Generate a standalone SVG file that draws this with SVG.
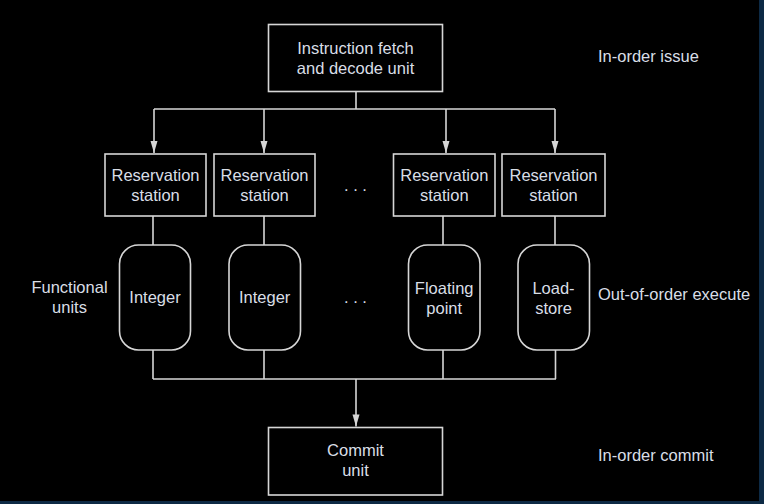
<svg xmlns="http://www.w3.org/2000/svg" width="764" height="504" viewBox="0 0 764 504">
<defs>
<style>
.box{fill:#000;stroke:#d6d6d6;stroke-width:1.6}
.ln{fill:none;stroke:#d6d6d6;stroke-width:1.6}
text{font-family:"Liberation Sans",Arial,sans-serif;font-size:16.5px;fill:#d9dee6;text-anchor:middle}
.lab{text-anchor:start}
</style>
<marker id="ah" markerUnits="userSpaceOnUse" markerWidth="14" markerHeight="10" viewBox="0 0 14 10" refX="13" refY="5" orient="auto">
<path d="M1,1.5 L13,5 L1,8.5 Z" fill="#d6d6d6"/>
</marker>
</defs>
<rect width="764" height="504" fill="#0d2a45"/>
<rect width="759" height="501" fill="#000"/>
<g id="connectors">
<path class="ln" d="M356,92 V109 M154,109 H555"/>
<path class="ln" d="M154,109 V153" marker-end="url(#ah)"/>
<path class="ln" d="M264,109 V153" marker-end="url(#ah)"/>
<path class="ln" d="M446,109 V153" marker-end="url(#ah)"/>
<path class="ln" d="M555,109 V153" marker-end="url(#ah)"/>
<path class="ln" d="M153,216 V245 M264,216 V245 M443,216 V245 M555,216 V245"/>
<path class="ln" d="M153,350 V379 M264,350 V379 M443,350 V379 M555.5,350 V379 M153,379 H556"/>
<path class="ln" d="M356,379 V426.5" marker-end="url(#ah)"/>
</g>
<g id="fetch">
<rect class="box" x="268.5" y="24.5" width="174" height="67"/>
<text x="355.5" y="54">Instruction fetch</text>
<text x="355.5" y="74">and decode unit</text>
</g>
<g id="rs1">
<rect class="box" x="105" y="154" width="101" height="62"/>
<text x="155.5" y="180.5">Reservation</text>
<text x="155.5" y="200.5">station</text>
</g>
<g id="rs2">
<rect class="box" x="214" y="154" width="101" height="62"/>
<text x="264.5" y="180.5">Reservation</text>
<text x="264.5" y="200.5">station</text>
</g>
<g id="rs3">
<rect class="box" x="393.5" y="154" width="101.5" height="62"/>
<text x="444.3" y="180.5">Reservation</text>
<text x="444.3" y="200.5">station</text>
</g>
<g id="rs4">
<rect class="box" x="502" y="154" width="103" height="62"/>
<text x="553.5" y="180.5">Reservation</text>
<text x="553.5" y="200.5">station</text>
</g>
<g id="dots">
<text x="355.5" y="191">. . .</text>
<text x="355.5" y="303">. . .</text>
</g>
<g id="fu1">
<rect class="box" x="119.5" y="245" width="71" height="105" rx="19" ry="19"/>
<text x="155" y="303">Integer</text>
</g>
<g id="fu2">
<rect class="box" x="229" y="245" width="71.5" height="105" rx="19" ry="19"/>
<text x="264.7" y="303">Integer</text>
</g>
<g id="fu3">
<rect class="box" x="408.5" y="245" width="71.5" height="105" rx="19" ry="19"/>
<text x="444.2" y="293.5">Floating</text>
<text x="444.2" y="313.5">point</text>
</g>
<g id="fu4">
<rect class="box" x="518" y="245" width="71.5" height="105" rx="19" ry="19"/>
<text x="553.5" y="293.5">Load-</text>
<text x="553.5" y="313.5">store</text>
</g>
<g id="commit">
<rect class="box" x="268.5" y="427.5" width="174" height="67.5"/>
<text x="355.5" y="455.5">Commit</text>
<text x="355.5" y="476">unit</text>
</g>
<g id="labels">
<text x="69.5" y="293">Functional</text>
<text x="69.5" y="313">units</text>
<text class="lab" x="598" y="62">In-order issue</text>
<text class="lab" x="598" y="299.5">Out-of-order execute</text>
<text class="lab" x="598" y="460.5">In-order commit</text>
</g>
</svg>
